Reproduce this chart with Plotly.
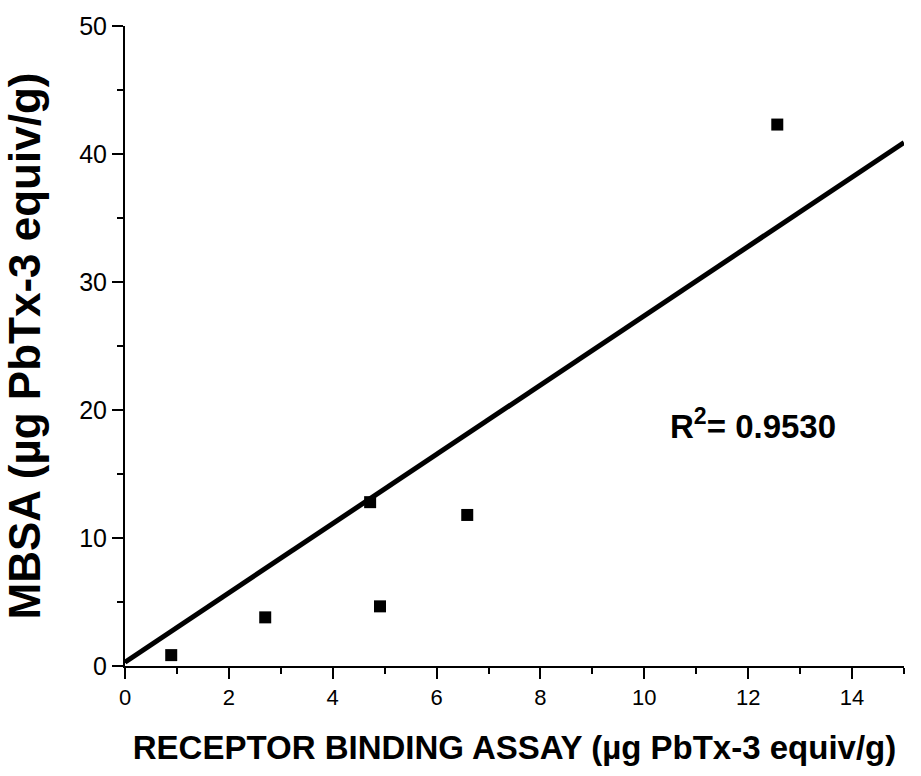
import plotly.graph_objects as go

# Data
rba_x = [0.89, 2.70, 4.72, 4.91, 6.59, 12.56]
mbsa_y = [0.85, 3.8, 12.8, 4.66, 11.8, 42.3]
fit_x = [0, 15]
fit_y = [0.3, 40.9]
x_ticks = [0, 2, 4, 6, 8, 10, 12, 14]
y_ticks = [0, 10, 20, 30, 40, 50]
r2_text = "R<sup>2</sup>= 0.9530"

FONT = "Liberation Sans, Arial, sans-serif"

fig = go.Figure()
fig.add_trace(go.Scatter(x=fit_x, y=fit_y, mode="lines",
                         line=dict(color="black", width=5),
                         showlegend=False, cliponaxis=False))
fig.add_trace(go.Scatter(x=rba_x, y=mbsa_y, mode="markers",
                         marker=dict(symbol="square", size=12, color="black"),
                         showlegend=False, cliponaxis=False))

fig.add_annotation(x=10.45, y=18.9, xref="x", yref="y", text=r2_text,
                   showarrow=False, xanchor="left", yanchor="middle",
                   font=dict(family=FONT, size=33, color="black", weight="bold"))

axis_common = dict(showgrid=False, zeroline=False, showline=True,
                   linecolor="black", linewidth=2, ticks="outside",
                   ticklen=11, tickwidth=2, tickcolor="black")

fig.update_xaxes(range=[0, 15], tickvals=x_ticks, **axis_common,
                 tickfont=dict(family=FONT, size=22, color="black"),
                 minor=dict(dtick=1, ticks="outside", ticklen=6,
                            tickwidth=2, tickcolor="black"),
                 title=dict(text="RECEPTOR BINDING ASSAY (µg PbTx-3 equiv/g)",
                            font=dict(family=FONT, size=33, color="black",
                                      weight="bold"), standoff=26))
fig.update_yaxes(range=[0, 50], tickvals=y_ticks, **axis_common,
                 tickfont=dict(family=FONT, size=25, color="black"),
                 minor=dict(dtick=5, ticks="outside", ticklen=6,
                            tickwidth=2, tickcolor="black"),
                 title=dict(text="MBSA (µg PbTx-3 equiv/g)",
                            font=dict(family=FONT, size=44, color="black",
                                      weight="bold"), standoff=30))

fig.update_layout(width=921, height=776,
                  margin=dict(l=125, r=17, t=22, b=110),
                  paper_bgcolor="white", plot_bgcolor="white")

fig.write_html("out.html")
